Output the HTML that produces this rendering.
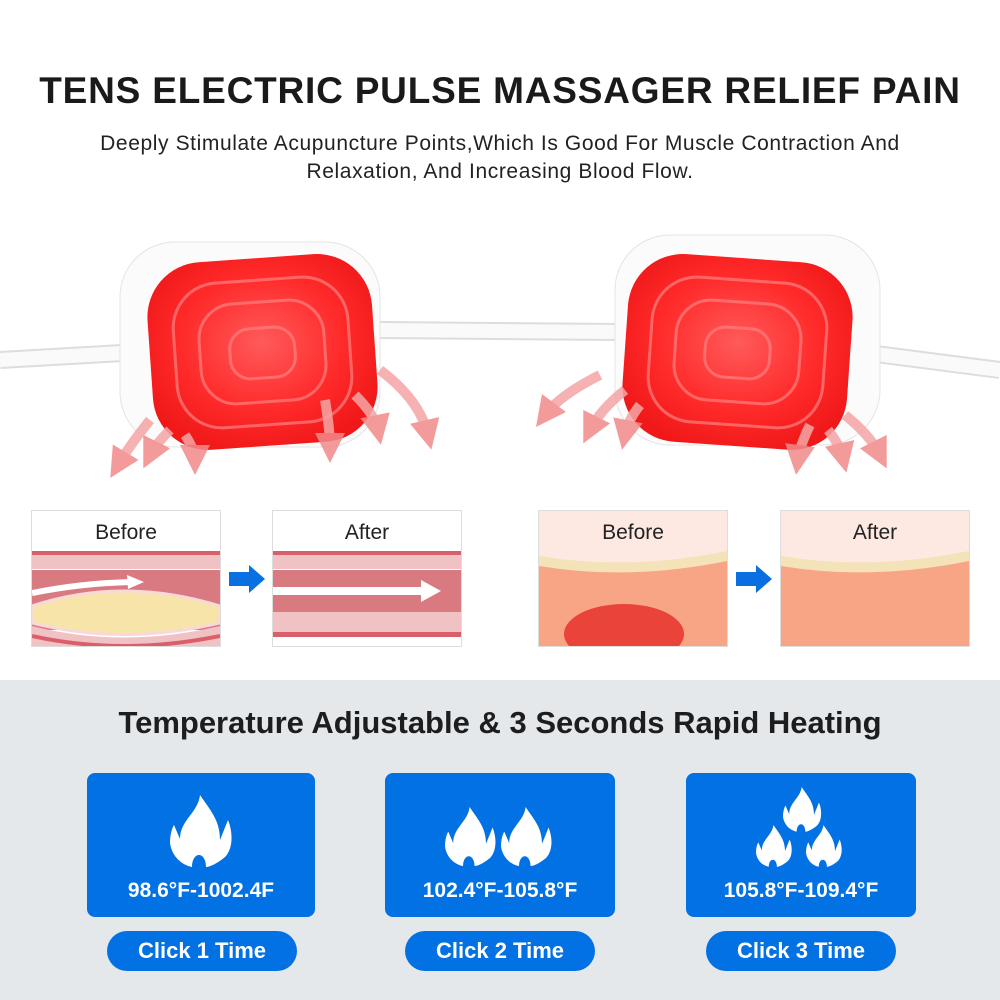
<!DOCTYPE html><html><head><style>
body{margin:0;width:1000px;height:1000px;position:relative;background:#fff;font-family:"Liberation Sans",sans-serif;overflow:hidden}
.a{position:absolute}
h1{position:absolute;top:70px;left:0;width:1000px;text-align:center;margin:0;font-size:37px;font-weight:bold;color:#1a1a1a;white-space:nowrap;letter-spacing:0.8px}
.sub{top:130px;left:40px;width:920px;text-align:center;font-size:21px;line-height:28px;color:#222;letter-spacing:0.6px}
.gray{top:680px;left:0;width:1000px;height:320px;background:#e4e8eb}
.h2{top:705px;left:0;width:1000px;text-align:center;font-size:31px;font-weight:bold;color:#1d1d1d}
.box{top:773px;width:228px;height:144px;background:#0271e3;border-radius:8px;color:#fff;font-weight:bold;font-size:21px;text-align:center}
.box span{position:absolute;bottom:14px;left:0;width:100%}
.pill{top:931px;width:190px;height:40px;border-radius:20px;background:#0271e3;color:#fff;font-weight:bold;font-size:22px;text-align:center;line-height:40px}
.panel{top:510px;width:188px;height:135px;border:1px solid #ddd;background:#fff;overflow:hidden}
.panel .t{position:absolute;top:10px;width:100%;text-align:center;font-size:21px;color:#222}
</style></head><body>
<h1>TENS ELECTRIC PULSE MASSAGER RELIEF PAIN</h1>
<div class="a sub">Deeply Stimulate Acupuncture Points,Which Is Good For Muscle Contraction And<br>Relaxation, And Increasing Blood Flow.</div>
<svg class="a" style="left:0;top:220px" width="1000" height="270">
<defs>
<radialGradient id="r" cx="50%" cy="45%" r="60%"><stop offset="0" stop-color="#ff5a5a"/><stop offset=".6" stop-color="#ff2a2a"/><stop offset="1" stop-color="#f01818"/></radialGradient>
<marker id="m" viewBox="0 0 10 10" refX="5" refY="5" markerWidth="3" markerHeight="3" orient="auto"><path d="M0 0 L10 5 L0 10Z" fill="#f28a8a"/></marker>
</defs>
<path d="M0 140 L140 132 M380 110 L620 112 M860 132 L1000 150" stroke="#ddd" stroke-width="18" fill="none"/>
<path d="M0 140 L140 132 M380 110 L620 112 M860 132 L1000 150" stroke="#fafafa" stroke-width="14" fill="none"/>
<rect x="120" y="22" width="260" height="205" rx="55" fill="#fbfbfb" stroke="#e4e4e4"/>
<rect x="150" y="38" width="225" height="188" rx="55" fill="url(#r)" transform="rotate(-4 262 132)"/>
<g fill="none" stroke="#ff8080" stroke-width="3" opacity=".7"><rect x="175" y="60" width="175" height="145" rx="45" transform="rotate(-4 262 132)"/><rect x="200" y="82" width="125" height="100" rx="35" transform="rotate(-4 262 132)"/><rect x="230" y="108" width="65" height="50" rx="20" transform="rotate(-4 262 132)"/></g>
<rect x="615" y="15" width="265" height="210" rx="55" fill="#fbfbfb" stroke="#e4e4e4"/>
<rect x="625" y="38" width="225" height="188" rx="55" fill="url(#r)" transform="rotate(4 738 132)"/>
<g fill="none" stroke="#ff8080" stroke-width="3" opacity=".7"><rect x="650" y="60" width="175" height="145" rx="45" transform="rotate(4 738 132)"/><rect x="675" y="82" width="125" height="100" rx="35" transform="rotate(4 738 132)"/><rect x="705" y="108" width="65" height="50" rx="20" transform="rotate(4 738 132)"/></g>
<g stroke="#f5a5a5" stroke-width="10" fill="none" marker-end="url(#m)" opacity=".85">
<path d="M150 200 Q130 225 118 245"/><path d="M170 210 Q155 225 150 235"/><path d="M185 215 Q195 230 195 240"/>
<path d="M325 180 Q330 210 330 228"/><path d="M355 175 Q375 195 378 210"/><path d="M380 150 Q420 180 428 215"/>
<path d="M600 155 Q560 175 545 195"/><path d="M625 170 Q600 190 590 210"/><path d="M640 185 Q628 200 625 215"/>
<path d="M810 205 Q800 225 798 240"/><path d="M828 210 Q840 225 843 238"/><path d="M845 195 Q870 215 880 235"/>
</g>
</svg>
<div class="a panel" style="left:31px"><div class="t">Before</div>
<svg class="a" style="left:0;top:40px" width="188" height="95"><rect y="0" width="188" height="4" fill="#d9606b"/><rect y="4" width="188" height="14" fill="#f1c2c4"/><rect y="19" width="188" height="60" fill="#d97a80"/><path d="M0 55 Q90 25 188 55 L188 72 Q90 95 0 72Z" fill="#f7e4a8" stroke="#f8d8d8" stroke-width="3"/><path d="M0 75 Q90 98 188 75 L188 95 L0 95Z" fill="#f1c2c4"/><path d="M0 85 Q90 105 188 85" stroke="#d9606b" stroke-width="4" fill="none"/><path d="M0 42 Q50 32 100 31" stroke="#fff" stroke-width="6" fill="none"/><path d="M95 24 L112 31 L96 38Z" fill="#fff"/></svg></div>
<svg class="a" style="left:229px;top:565px" width="38" height="28"><path d="M0 7 H20 V0 L36 14 L20 28 V21 H0Z" fill="#0a6fe0"/></svg>
<div class="a panel" style="left:272px"><div class="t">After</div>
<svg class="a" style="left:0;top:40px" width="188" height="95"><rect y="0" width="188" height="4" fill="#d9606b"/><rect y="4" width="188" height="14" fill="#f1c2c4"/><rect y="19" width="188" height="42" fill="#d97a80"/><rect y="61" width="188" height="20" fill="#f1c2c4"/><rect y="81" width="188" height="5" fill="#d9606b"/><rect x="0" y="36" width="150" height="8" fill="#fff"/><path d="M148 29 L168 40 L148 51Z" fill="#fff"/></svg></div>
<div class="a panel" style="left:538px;background:#fde9e2"><div class="t">Before</div>
<svg class="a" style="left:0;top:35px" width="188" height="100"><path d="M0 10 Q90 25 188 5 L188 100 L0 100Z" fill="#f4e2b8"/><path d="M0 20 Q90 35 188 15 L188 100 L0 100Z" fill="#f7a584"/><ellipse cx="85" cy="88" rx="60" ry="30" fill="#e8312b" opacity=".85"/></svg></div>
<svg class="a" style="left:736px;top:565px" width="38" height="28"><path d="M0 7 H20 V0 L36 14 L20 28 V21 H0Z" fill="#0a6fe0"/></svg>
<div class="a panel" style="left:780px;background:#fde9e2"><div class="t">After</div>
<svg class="a" style="left:0;top:35px" width="188" height="100"><path d="M0 10 Q90 25 188 5 L188 100 L0 100Z" fill="#f4e2b8"/><path d="M0 20 Q90 35 188 15 L188 100 L0 100Z" fill="#f7a584"/></svg></div>
<div class="a gray"></div>
<div class="a h2">Temperature Adjustable &amp; 3 Seconds Rapid Heating</div>
<svg width="0" height="0" style="position:absolute"><defs><path id="f" d="M30 0 C40 15 50 25 50 45 L58 25 C64 40 62 55 55 62 C48 68 40 72 36 72 C36 65 33 60 29 60 C25 60 22 65 22 72 C12 70 2 62 0 48 C0 40 2 33 4 30 L10 44 C10 25 28 18 30 0Z" fill="#fff"/></defs></svg>
<div class="a box" style="left:87px"><svg class="a" style="left:83px;top:22px" width="62" height="75"><use href="#f"/></svg><span>98.6°F-1002.4F</span></div>
<div class="a box" style="left:385px;width:230px"><svg class="a" style="left:60px;top:34px" width="120" height="60"><use href="#f" transform="scale(.82)"/><use href="#f" transform="translate(56 0) scale(.82)"/></svg><span>102.4°F-105.8°F</span></div>
<div class="a box" style="left:686px;width:230px"><svg class="a" style="left:70px;top:14px" width="100" height="85"><use href="#f" transform="translate(27 0) scale(.62)"/><use href="#f" transform="translate(0 38) scale(.58)"/><use href="#f" transform="translate(50 38) scale(.58)"/></svg><span>105.8°F-109.4°F</span></div>
<div class="a pill" style="left:107px">Click 1 Time</div>
<div class="a pill" style="left:405px">Click 2 Time</div>
<div class="a pill" style="left:706px">Click 3 Time</div>
</body></html>
